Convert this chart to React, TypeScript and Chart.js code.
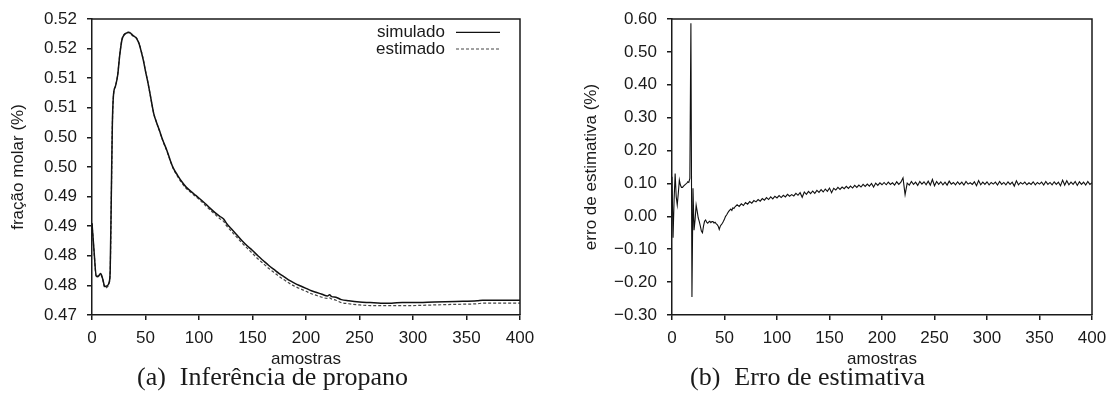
import React, { useEffect, useRef } from "react";
import { Chart, registerables } from "chart.js";

Chart.register(...registerables);

const FONT = "'Liberation Sans', Arial, Helvetica, sans-serif";
const SERIF = "'Liberation Serif', 'Times New Roman', serif";
const INK = "#1a1a1a";
const FS = 17;

// ---- (a) Inferência de propano ----
const sampleX = [0, 2, 4, 6, 8, 10, 12, 14, 16, 17, 18, 19, 20, 22, 24, 26, 28, 30, 32, 34, 36, 38, 40, 42, 44, 46, 48, 50, 52, 54, 56, 58, 60, 63, 66, 70, 73, 76, 80, 84, 88, 93, 97, 101, 106, 110, 115, 120, 123, 126, 130, 135, 140, 145, 150, 155, 160, 165, 170, 175, 180, 185, 190, 195, 200, 205, 210, 215, 220, 222, 224, 228, 233, 240, 250, 260, 270, 280, 290, 300, 320, 340, 360, 365, 380, 400];
const simulado = [0.4855, 0.4806, 0.4765, 0.4766, 0.477, 0.4761, 0.4748, 0.4749, 0.4755, 0.4775, 0.4895, 0.502, 0.507, 0.5087, 0.5105, 0.514, 0.5165, 0.5173, 0.5176, 0.5177, 0.5176, 0.5172, 0.517, 0.5166, 0.5158, 0.5145, 0.513, 0.5112, 0.5095, 0.5076, 0.5056, 0.5038, 0.5027, 0.5012, 0.4996, 0.4978, 0.4962, 0.4948, 0.4936, 0.4925, 0.4916, 0.4908, 0.4902, 0.4896, 0.4888, 0.4881, 0.4873, 0.4866, 0.4862, 0.4854, 0.4846, 0.4836, 0.4826, 0.4817, 0.4809, 0.48, 0.4792, 0.4784, 0.4777, 0.477, 0.4764, 0.4758, 0.4753, 0.4749, 0.4745, 0.4741, 0.4738, 0.4735, 0.4732, 0.4734, 0.4731, 0.473, 0.4726, 0.4724, 0.4722, 0.4721, 0.472, 0.472, 0.4721, 0.4721, 0.4722, 0.4723, 0.4724, 0.4725, 0.4725, 0.4725];
const estimado = [0.4855, 0.4805, 0.4764, 0.4765, 0.4769, 0.476, 0.4746, 0.4747, 0.4754, 0.4772, 0.489, 0.5018, 0.5069, 0.5087, 0.5106, 0.5141, 0.5166, 0.5174, 0.5177, 0.5178, 0.5177, 0.5173, 0.5171, 0.5167, 0.5159, 0.5146, 0.5131, 0.5112, 0.5095, 0.5076, 0.5056, 0.5038, 0.5027, 0.5011, 0.4995, 0.4977, 0.4961, 0.4947, 0.4934, 0.4923, 0.4914, 0.4906, 0.49, 0.4894, 0.4885, 0.4878, 0.487, 0.4862, 0.4858, 0.485, 0.4842, 0.4832, 0.4822, 0.4813, 0.4804, 0.4795, 0.4787, 0.4779, 0.4772, 0.4765, 0.4759, 0.4753, 0.4748, 0.4744, 0.474, 0.4736, 0.4733, 0.473, 0.4728, 0.4729, 0.4727, 0.4725, 0.4721, 0.4719, 0.4717, 0.4716, 0.4716, 0.4716, 0.4716, 0.4716, 0.4717, 0.4718, 0.4719, 0.472, 0.472, 0.472];
const leftYTicks = [0.47, 0.475, 0.48, 0.485, 0.49, 0.495, 0.5, 0.505, 0.51, 0.515, 0.52];
const leftYLabels = ["0.47", "0.48", "0.48", "0.49", "0.49", "0.50", "0.50", "0.51", "0.51", "0.52", "0.52"];

// ---- (b) Erro de estimativa ----
const errX = [
  0, 1, 2, 3, 4, 5, 6, 7, 8, 9, 10, 11, 12, 13, 14, 15, 16, 17, 18, 19, 20, 21, 22, 23, 24, 25, 26, 27, 28, 29, 30,
  31, 32, 33, 34, 35, 36, 37, 38, 39, 40, 41, 42, 43, 44, 45, 46, 47, 48, 49, 50, 51, 52, 53, 54, 55, 56, 57, 58, 59, 60,
  62, 64, 66, 68, 70, 72, 74, 76, 78, 80, 82, 84, 86, 88, 90, 92, 94, 96, 98, 100,
  102, 104, 106, 108, 110, 112, 114, 116, 118, 120, 122, 124, 126, 128, 130, 132, 134, 136, 138, 140,
  142, 144, 146, 148, 150, 152, 154, 156, 158, 160, 162, 164, 166, 168, 170, 172, 174, 176, 178, 180,
  182, 184, 186, 188, 190, 192, 194, 196, 198, 200, 202, 204, 206, 208, 210, 212, 214, 216, 218, 220,
  222, 224, 226, 228, 230, 232, 234, 236, 238, 240, 242, 244, 246, 248, 250, 252, 254, 256, 258, 260,
  262, 264, 266, 268, 270, 272, 274, 276, 278, 280, 282, 284, 286, 288, 290, 292, 294, 296, 298, 300,
  302, 304, 306, 308, 310, 312, 314, 316, 318, 320, 322, 324, 326, 328, 330, 332, 334, 336, 338, 340,
  342, 344, 346, 348, 350, 352, 354, 356, 358, 360, 362, 364, 366, 368, 370, 372, 374, 376, 378, 380,
  382, 384, 386, 388, 390, 392, 394, 396, 398, 400
];
const errY = [
  0.12, -0.065, 0.05, 0.13, 0.06, 0.035, 0.07, 0.11, 0.095, 0.088, 0.088, 0.092, 0.095, 0.098, 0.1, 0.105, 0.103, 0.115, 0.587, -0.245, 0.085, -0.042, -0.01, 0.034, 0.015, -0.005, -0.016, -0.03, -0.045, -0.05, -0.03,
  -0.015, -0.011, -0.018, -0.021, -0.017, -0.015, -0.019, -0.016, -0.016, -0.02, -0.018, -0.022, -0.025, -0.03, -0.04, -0.03, -0.025, -0.021, -0.015, -0.008, 0.0, 0.004, 0.01, 0.015, 0.019, 0.022, 0.018, 0.026, 0.024, 0.029,
  0.035, 0.03, 0.038, 0.033, 0.042, 0.037, 0.045, 0.04, 0.048, 0.044, 0.051, 0.046, 0.054, 0.049, 0.057, 0.051, 0.059, 0.053, 0.061, 0.056,
  0.063, 0.057, 0.064, 0.059, 0.067, 0.061, 0.066, 0.062, 0.07, 0.064, 0.072, 0.058, 0.074, 0.067, 0.076, 0.069, 0.077, 0.07, 0.079, 0.073,
  0.081, 0.074, 0.083, 0.076, 0.086, 0.072, 0.085, 0.08, 0.088, 0.082, 0.089, 0.084, 0.091, 0.085, 0.092, 0.086, 0.094, 0.088, 0.095, 0.089,
  0.097, 0.091, 0.098, 0.092, 0.1, 0.089, 0.101, 0.094, 0.102, 0.096, 0.103, 0.096, 0.104, 0.097, 0.102, 0.095, 0.105, 0.097, 0.104, 0.117,
  0.066, 0.101, 0.095, 0.106, 0.097, 0.104, 0.094, 0.106, 0.098, 0.105, 0.096, 0.107, 0.095, 0.112, 0.093, 0.106, 0.097, 0.105, 0.096, 0.104,
  0.095, 0.107, 0.098, 0.103, 0.096, 0.105, 0.097, 0.104, 0.095, 0.106, 0.098, 0.102, 0.097, 0.105, 0.093, 0.109, 0.096, 0.104, 0.097, 0.105,
  0.096, 0.103, 0.098, 0.104, 0.095, 0.106, 0.097, 0.103, 0.096, 0.105, 0.097, 0.104, 0.092, 0.108, 0.096, 0.103, 0.098, 0.104, 0.096, 0.102,
  0.097, 0.105, 0.096, 0.103, 0.098, 0.104, 0.095, 0.106, 0.097, 0.103, 0.096, 0.105, 0.097, 0.104, 0.093, 0.11, 0.095, 0.108, 0.096, 0.104,
  0.097, 0.106, 0.094, 0.105, 0.097, 0.104, 0.095, 0.106, 0.097, 0.102
];
const rightYTicks = [-0.3, -0.2, -0.1, 0, 0.1, 0.2, 0.3, 0.4, 0.5, 0.6];
const rightYLabels = ["\u22120.30", "\u22120.20", "\u22120.10", "0.00", "0.10", "0.20", "0.30", "0.40", "0.50", "0.60"];

const xTicks = [0, 50, 100, 150, 200, 250, 300, 350, 400];

const framePlugin = {
  id: "frame",
  afterDatasetsDraw(chart: any) {
    const { ctx, chartArea } = chart;
    const { left, right, top, bottom } = chartArea;
    ctx.save();
    ctx.strokeStyle = INK;
    ctx.lineWidth = 1.5;
    ctx.beginPath();
    ctx.moveTo(left, top);
    ctx.lineTo(right, top);
    ctx.lineTo(right, bottom);
    ctx.stroke();
    ctx.restore();
  },
};

function makeOptions(yTicks: number[], yLabels: string[], yTitle: string, yWidth: number, titlePad: number, padRight: number) {
  const font = { family: FONT, size: FS };
  const grid = { display: true, drawOnChartArea: false, drawTicks: true, tickLength: 5, color: INK, lineWidth: 1.5 };
  const border = { display: true, color: INK, width: 1.5 };
  return {
    responsive: false,
    animation: false as const,
    layout: { padding: { top: 19, right: padRight, bottom: 0, left: 0 } },
    plugins: { legend: { display: false }, tooltip: { enabled: false } },
    elements: { point: { radius: 0 } },
    scales: {
      x: {
        type: "linear" as const,
        min: 0,
        max: 400,
        afterBuildTicks: (s: any) => {
          s.ticks = xTicks.map((v) => ({ value: v }));
        },
        afterFit: (s: any) => {
          s.height = 55;
          s.paddingLeft = 0;
          s.paddingRight = 0;
        },
        ticks: { font, color: INK, padding: 8, maxRotation: 0, autoSkip: false },
        grid,
        border,
        title: { display: true, text: "amostras", font, color: INK, padding: { top: 0, bottom: 0 } },
      },
      y: {
        type: "linear" as const,
        min: yTicks[0],
        max: yTicks[yTicks.length - 1],
        afterBuildTicks: (s: any) => {
          s.ticks = yTicks.map((v) => ({ value: v }));
        },
        afterFit: (s: any) => {
          s.width = yWidth;
          s.paddingTop = 0;
          s.paddingBottom = 0;
        },
        ticks: {
          font,
          color: INK,
          padding: 10,
          autoSkip: false,
          callback: (_v: any, i: number) => yLabels[i],
        },
        grid,
        border,
        title: { display: true, text: yTitle, font, color: INK, padding: { top: titlePad, bottom: 0 } },
      },
    },
  };
}

export default function App() {
  const leftRef = useRef<HTMLCanvasElement>(null);
  const rightRef = useRef<HTMLCanvasElement>(null);

  useEffect(() => {
    const left = new Chart(leftRef.current as HTMLCanvasElement, {
      type: "line",
      data: {
        datasets: [
          {
            label: "simulado",
            data: sampleX.map((x, i) => ({ x, y: simulado[i] })),
            borderColor: "#111",
            borderWidth: 1.5,
            cubicInterpolationMode: "monotone",
            fill: false,
          },
          {
            label: "estimado",
            data: sampleX.map((x, i) => ({ x, y: estimado[i] })),
            borderColor: "#444",
            borderWidth: 1.2,
            borderDash: [3, 2],
            cubicInterpolationMode: "monotone",
            fill: false,
          },
        ],
      },
      options: makeOptions(leftYTicks, leftYLabels, "fração molar (%)", 92, 8, 20) as any,
      plugins: [framePlugin],
    });
    const right = new Chart(rightRef.current as HTMLCanvasElement, {
      type: "line",
      data: {
        datasets: [
          {
            label: "erro",
            data: errX.map((x, i) => ({ x, y: errY[i] })),
            borderColor: "#111",
            borderWidth: 1.1,
            tension: 0,
            fill: false,
          },
        ],
      },
      options: makeOptions(rightYTicks, rightYLabels, "erro de estimativa (%)", 132, 41, 14) as any,
      plugins: [framePlugin],
    });
    return () => {
      left.destroy();
      right.destroy();
    };
  }, []);

  const legendText: React.CSSProperties = {
    position: "absolute",
    left: 300,
    width: 145,
    textAlign: "right",
    fontFamily: FONT,
    fontSize: FS,
    lineHeight: "17px",
    color: INK,
    whiteSpace: "nowrap",
  };
  const caption: React.CSSProperties = {
    position: "absolute",
    top: 362,
    fontFamily: SERIF,
    fontSize: 26,
    lineHeight: "30px",
    color: INK,
    whiteSpace: "nowrap",
  };

  return (
    <div style={{ position: "fixed", left: 0, top: 0, width: 1106, height: 409, background: "#fff", overflow: "hidden" }}>
      <div style={{ position: "absolute", left: 0, top: 0 }}>
        <canvas ref={leftRef} width={540} height={370} style={{ display: "block" }} />
      </div>
      <div style={{ position: "absolute", left: 540, top: 0 }}>
        <canvas ref={rightRef} width={566} height={370} style={{ display: "block" }} />
      </div>
      <div style={{ ...legendText, top: 22.5 }}>simulado</div>
      <div style={{ ...legendText, top: 40 }}>estimado</div>
      <svg style={{ position: "absolute", left: 456, top: 26 }} width={46} height={30}>
        <line x1={0} y1={6.3} x2={44} y2={6.3} stroke="#111" strokeWidth={1.3} />
        <line x1={0} y1={23} x2={44} y2={23} stroke="#444" strokeWidth={1.2} strokeDasharray="3 2" />
      </svg>
      <div style={{ ...caption, left: 137 }}>
        <span style={{ marginRight: 14 }}>(a)</span>Inferência de propano
      </div>
      <div style={{ ...caption, left: 690 }}>
        <span style={{ marginRight: 14 }}>(b)</span>Erro de estimativa
      </div>
    </div>
  );
}
